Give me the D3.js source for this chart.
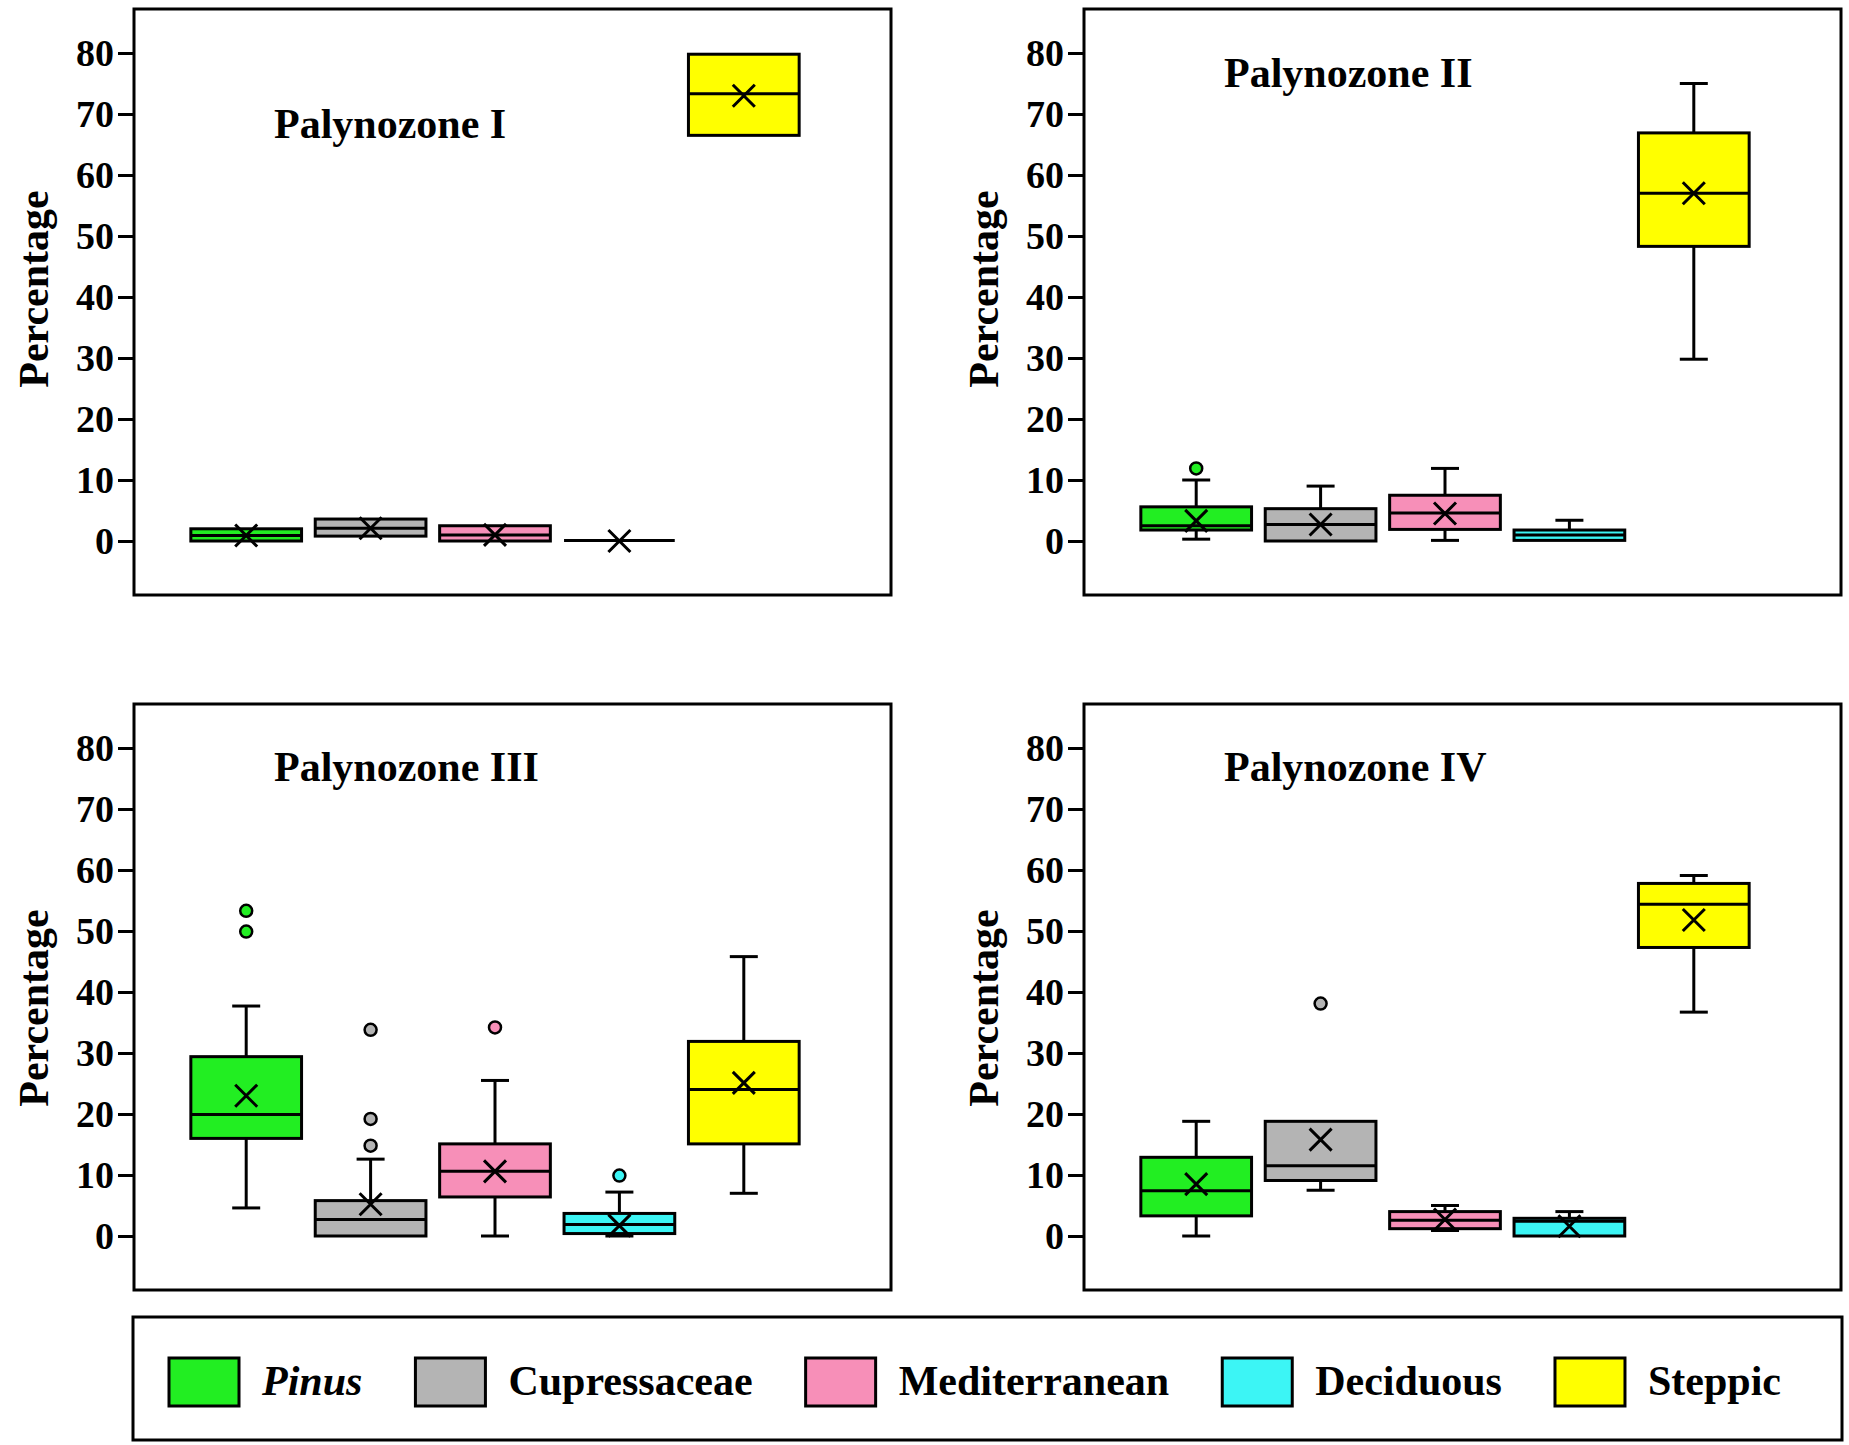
<!DOCTYPE html>
<html>
<head>
<meta charset="utf-8">
<script src="https://cdn.jsdelivr.net/npm/d3@7"></script>
<style>
  body { margin: 0; background: #fff; }
  svg text { font-family: "Liberation Serif", "Times New Roman", serif; font-weight: bold; fill: #000; }
</style>
</head>
<body>
<div id="wrapper"></div>
<script>
// categories and colours
const categories = ["Pinus", "Cupressaceae", "Mediterranean", "Deciduous", "Steppic"];
const colors = ["#22ee22", "#b4b4b4", "#f78fb8", "#3cf5f5", "#ffff00"];
const zones = ["Palynozone I", "Palynozone II", "Palynozone III", "Palynozone IV"];
const yTicks = [0, 10, 20, 30, 40, 50, 60, 70, 80];

// [min, q1, median, q3, max, mean] per category
const zoneIStats = [
  [0, 0, 0.9, 2.0, 2.0, 0.9],
  [0.8, 0.8, 2.1, 3.6, 3.6, 2.1],
  [0, 0, 1.0, 2.5, 2.5, 1.0],
  [0.1, 0.1, 0.1, 0.1, 0.1, 0],
  [66.5, 66.5, 73.3, 79.8, 79.8, 73.0]
];
const zoneIIStats = [
  [0.3, 1.8, 2.5, 5.6, 10.0, 3.3],
  [0, 0, 2.7, 5.3, 9.0, 2.7],
  [0.1, 1.9, 4.6, 7.5, 11.9, 4.5],
  [0.1, 0.1, 1.0, 1.8, 3.4, null],
  [29.8, 48.3, 57.0, 66.9, 75.0, 57.0]
];
const zoneIIIStats = [
  [4.6, 16.0, 19.9, 29.4, 37.7, 23.0],
  [0, 0, 2.7, 5.8, 12.6, 5.2],
  [0, 6.4, 10.6, 15.1, 25.5, 10.6],
  [0, 0.4, 1.9, 3.7, 7.2, 1.7],
  [7.0, 15.1, 24.0, 31.9, 45.8, 25.1]
];
const zoneIVStats = [
  [0, 3.3, 7.4, 12.9, 18.8, 8.5],
  [7.5, 9.1, 11.5, 18.8, 18.8, 15.8],
  [0.9, 1.2, 2.6, 4.0, 5.0, 2.7],
  [0, 0, 2.4, 2.9, 4.0, 1.6],
  [36.7, 47.3, 54.4, 57.8, 59.1, 51.8]
];
const zoneStats = [zoneIStats, zoneIIStats, zoneIIIStats, zoneIVStats];

// outliers: [category index, value]
const zoneIOutliers = [];
const zoneIIOutliers = [[0, 11.9]];
const zoneIIIOutliers = [[0, 53.3], [0, 49.9], [1, 33.8], [1, 19.2], [1, 14.8], [2, 34.2], [3, 9.9]];
const zoneIVOutliers = [[1, 38.1]];
const zoneOutliers = [zoneIOutliers, zoneIIOutliers, zoneIIIOutliers, zoneIVOutliers];

// layout
const panelPos = [[134, 9], [1084, 9], [134, 704], [1084, 704]];
const panelW = 757;
const panelH = 586;
const titleBaseline = [129, 78, 77, 77];
const yLabelCenter = [280, 280, 304, 304];

const svg = d3.select("#wrapper")
  .append("svg")
  .attr("width", 1849)
  .attr("height", 1445);

const xScale = d3.scaleBand()
  .domain(categories)
  .range([50, 672])
  .paddingInner(0.11)
  .paddingOuter(0.055);

const yScale = d3.scaleLinear()
  .domain([0, 80])
  .range([532, 44]);

const color = d3.scaleOrdinal().domain(categories).range(colors);

const capW = 28;

zones.forEach((zone, zi) => {
  const g = svg.append("g")
    .attr("transform", `translate(${panelPos[zi][0]},${panelPos[zi][1]})`);

  g.append("rect")
    .attr("width", panelW)
    .attr("height", panelH)
    .attr("fill", "none")
    .attr("stroke", "#000")
    .attr("stroke-width", 3);

  const yAxis = d3.axisLeft(yScale)
    .tickValues(yTicks)
    .tickSize(16)
    .tickPadding(4);

  const ax = g.append("g").call(yAxis);
  ax.select(".domain").remove();
  ax.selectAll("line").attr("stroke-width", 3);
  ax.selectAll("text")
    .style("font-size", "38px")
    .attr("dy", "0.34em");

  g.append("text")
    .attr("transform", `translate(-101,${yLabelCenter[zi]}) rotate(-90)`)
    .attr("text-anchor", "middle")
    .attr("dy", "0.35em")
    .style("font-size", "42px")
    .text("Percentage");

  g.append("text")
    .attr("x", 140)
    .attr("y", titleBaseline[zi])
    .style("font-size", "42px")
    .text(zone);

  const stats = zoneStats[zi].map((s, i) => ({
    cat: categories[i],
    min: s[0], q1: s[1], med: s[2], q3: s[3], max: s[4], mean: s[5]
  }));

  const boxes = g.selectAll(".box")
    .data(stats)
    .join("g")
    .attr("class", "box")
    .attr("transform", (d) => `translate(${xScale(d.cat)},0)`);

  const bw = xScale.bandwidth();

  // whiskers
  boxes.append("line")
    .attr("x1", bw / 2).attr("x2", bw / 2)
    .attr("y1", (d) => yScale(d.max)).attr("y2", (d) => yScale(d.q3))
    .attr("stroke", "#000").attr("stroke-width", 3);
  boxes.append("line")
    .attr("x1", bw / 2).attr("x2", bw / 2)
    .attr("y1", (d) => yScale(d.q1)).attr("y2", (d) => yScale(d.min))
    .attr("stroke", "#000").attr("stroke-width", 3);
  boxes.filter((d) => d.max > d.q3)
    .append("line")
    .attr("x1", bw / 2 - capW / 2).attr("x2", bw / 2 + capW / 2)
    .attr("y1", (d) => yScale(d.max)).attr("y2", (d) => yScale(d.max))
    .attr("stroke", "#000").attr("stroke-width", 3);
  boxes.filter((d) => d.min < d.q1)
    .append("line")
    .attr("x1", bw / 2 - capW / 2).attr("x2", bw / 2 + capW / 2)
    .attr("y1", (d) => yScale(d.min)).attr("y2", (d) => yScale(d.min))
    .attr("stroke", "#000").attr("stroke-width", 3);

  boxes.append("rect")
    .attr("x", 0)
    .attr("width", bw)
    .attr("y", (d) => yScale(d.q3))
    .attr("height", (d) => yScale(d.q1) - yScale(d.q3))
    .attr("fill", (d) => color(d.cat))
    .attr("stroke", "#000")
    .attr("stroke-width", 3);

  boxes.append("line")
    .attr("x1", 0).attr("x2", bw)
    .attr("y1", (d) => yScale(d.med)).attr("y2", (d) => yScale(d.med))
    .attr("stroke", "#000").attr("stroke-width", 3);

  boxes.filter((d) => d.mean !== null)
    .append("path")
    .attr("transform", (d) => `translate(${bw / 2},${yScale(d.mean)})`)
    .attr("d", "M-11,-11L11,11M-11,11L11,-11")
    .attr("stroke", "#000")
    .attr("stroke-width", 3)
    .attr("fill", "none");

  g.selectAll(".outlier")
    .data(zoneOutliers[zi])
    .join("circle")
    .attr("class", "outlier")
    .attr("cx", (d) => xScale(categories[d[0]]) + bw / 2)
    .attr("cy", (d) => yScale(d[1]))
    .attr("r", 6)
    .attr("fill", (d) => colors[d[0]])
    .attr("stroke", "#000")
    .attr("stroke-width", 2.5);
});

// legend
const legend = svg.append("g");
legend.append("rect")
  .attr("x", 133).attr("y", 1317)
  .attr("width", 1709).attr("height", 123)
  .attr("fill", "none")
  .attr("stroke", "#000")
  .attr("stroke-width", 3);

const items = legend.selectAll(".item")
  .data(categories)
  .join("g")
  .attr("class", "item");

items.append("rect")
  .attr("width", 70).attr("height", 48)
  .attr("fill", (d) => color(d))
  .attr("stroke", "#000")
  .attr("stroke-width", 3);

items.append("text")
  .attr("x", 93)
  .attr("y", 37)
  .style("font-size", "42px")
  .style("font-style", (d) => (d === "Pinus" ? "italic" : "normal"))
  .text((d) => d);

const widths = [];
items.select("text").each(function () { widths.push(this.getComputedTextLength()); });
const total = d3.sum(widths) + widths.length * 93;
const gap = (1781 - 169 - total) / (widths.length - 1);
let cursor = 169;
items.attr("transform", (d, i) => {
  const t = `translate(${cursor},1358)`;
  cursor += 93 + widths[i] + gap;
  return t;
});
</script>
</body>
</html>
